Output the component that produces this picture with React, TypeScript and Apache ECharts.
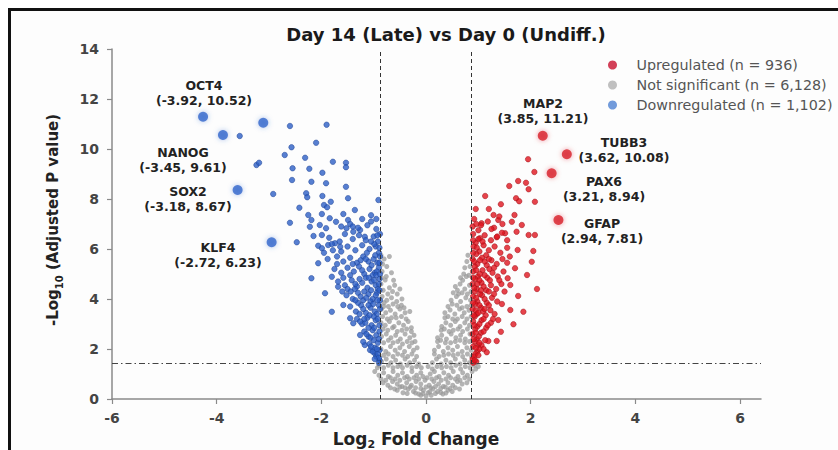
import React, { useEffect, useRef } from "react";
import * as echarts from "echarts";

// ---------------- data ----------------
const xTickValues = [-6, -4, -2, 0, 2, 4, 6];
const foldThreshold = 0.87;
const pThreshold = 1.42;

const upName = "Upregulated (n = 936)";
const nsName = "Not significant (n = 6,128)";
const downName = "Downregulated (n = 1,102)";

const downregulated: number[][] = [
  [-3.56, 10.52], [-3.24, 9.36], [-3.19, 9.45], [-2.92, 8.2], [-2.47, 6.27],
  [-2.6, 10.92], [-1.9, 10.97], [-2.1, 10.25], [-2.57, 10.07], [-2.7, 9.76], [-2.31, 9.65], [-1.78, 9.49],
  [-1.53, 9.45], [-1.53, 9.27], [-2.55, 9.23], [-2.23, 9.21], [-1.98, 9.05], [-2.56, 8.76], [-2.19, 8.69],
  [-1.91, 8.63], [-1.53, 8.49], [-2.29, 8.23], [-2.27, 8.07], [-1.98, 8.12], [-1.82, 7.89], [-1.95, 7.76],
  [-1.89, 7.67], [-1.49, 8.03], [-2.42, 7.65], [-1.36, 7.56], [-0.91, 7.96], [-2.25, 7.36], [-2.19, 7.16],
  [-1.99, 7.4], [-1.84, 7.23], [-1.72, 7.09], [-2.6, 7.05], [-2.22, 6.89], [-2.03, 6.96], [-1.91, 6.83],
  [-1.49, 7.16], [-1.52, 6.83], [-1.39, 6.69], [-1.26, 6.76], [-1.17, 6.49], [-1.99, 6.56], [-2.15, 6.52],
  [-2.06, 6.13], [-1.99, 6.03], [-1.87, 6.16], [-1.74, 6.23], [-1.64, 6.09], [-2.06, 5.43], [-2.19, 4.83],
  [-1.8, 4.89], [-1.93, 4.23], [-1.8, 3.49], [-1.68, 4.49], [-1.58, 3.76], [-1.45, 3.23], [-1.39, 3.03],
  [-1.26, 2.56], [-1.17, 2.16], [-1.07, 1.96], [-0.98, 1.83], [-1.2, 2.29],
  [-1.62, 6.9], [-1.45, 7.0], [-1.3, 6.85], [-1.12, 6.95], [-0.95, 6.8], [-1.05, 7.1],
  [-1.85, 6.45], [-1.55, 6.6], [-1.4, 6.4], [-1.28, 6.55], [-1.15, 6.35], [-1.0, 6.5], [-0.92, 6.3], [-1.65, 6.3],
  [-1.95, 5.85], [-1.5, 6.1], [-1.35, 5.95], [-1.22, 6.15], [-1.08, 6.0], [-0.96, 6.1], [-1.78, 5.95], [-0.9, 5.85],
  [-1.88, 5.6], [-1.7, 5.7], [-1.58, 5.5], [-1.45, 5.65], [-1.32, 5.45], [-1.2, 5.7], [-1.1, 5.5], [-1.0, 5.6],
  [-0.93, 5.45], [-1.4, 5.4], [-1.25, 5.55], [-0.88, 5.7],
  [-1.75, 5.2], [-1.62, 5.05], [-1.5, 5.25], [-1.38, 5.1], [-1.28, 5.3], [-1.18, 5.0], [-1.08, 5.2], [-0.98, 5.05],
  [-0.9, 5.25], [-1.45, 4.95], [-1.22, 5.15], [-1.02, 4.95], [-0.94, 5.1],
  [-1.68, 4.7], [-1.55, 4.55], [-1.42, 4.75], [-1.32, 4.5], [-1.22, 4.65], [-1.12, 4.45], [-1.04, 4.7], [-0.96, 4.55],
  [-0.89, 4.8], [-1.36, 4.4], [-1.15, 4.85], [-0.92, 4.4], [-1.5, 4.4],
  [-1.52, 4.15], [-1.4, 4.0], [-1.3, 4.25], [-1.2, 3.95], [-1.1, 4.2], [-1.02, 4.0], [-0.94, 4.25], [-0.88, 3.95],
  [-1.25, 4.1], [-1.06, 3.9], [-1.44, 4.3],
  [-1.45, 3.7], [-1.34, 3.5], [-1.24, 3.75], [-1.15, 3.45], [-1.06, 3.65], [-0.98, 3.5], [-0.9, 3.75], [-1.2, 3.6],
  [-0.94, 3.4], [-1.3, 3.85],
  [-1.32, 3.2], [-1.22, 3.0], [-1.12, 3.25], [-1.04, 2.95], [-0.96, 3.15], [-0.89, 2.95], [-1.16, 3.05], [-1.0, 3.3],
  [-1.18, 2.7], [-1.1, 2.5], [-1.02, 2.75], [-0.95, 2.55], [-0.89, 2.7], [-1.06, 2.45],
  [-1.08, 2.2], [-0.98, 2.05], [-0.92, 2.25], [-0.89, 1.95], [-1.02, 1.9],
  [-0.95, 1.7], [-0.89, 1.55], [-0.92, 1.8], [-0.9, 1.45],
  [-0.88, 6.6], [-0.93, 6.55], [-0.99, 6.2], [-1.05, 6.3], [-0.89, 6.05], [-1.13, 5.85], [-0.97, 5.75], [-1.04, 5.35],
  [-0.89, 5.45], [-1.15, 5.6], [-0.95, 4.95], [-1.09, 4.85], [-0.88, 5.0], [-1.27, 4.8], [-0.99, 4.75], [-0.9, 4.6],
  [-1.18, 4.3], [-1.05, 4.35], [-0.96, 4.15], [-0.89, 4.35], [-1.14, 4.05], [-1.35, 3.95], [-0.93, 3.95], [-1.01, 3.8],
  [-1.1, 3.75], [-0.88, 3.6], [-1.27, 3.4], [-1.08, 3.35], [-0.92, 3.2], [-1.18, 3.2], [-1.26, 3.1], [-0.99, 2.85],
  [-1.1, 2.85], [-0.9, 2.4], [-1.14, 2.6], [-1.0, 2.35], [-0.94, 2.0], [-1.05, 2.1], [-0.9, 1.65], [-0.98, 1.6],
  [-1.35, 4.6], [-1.6, 4.3], [-1.58, 4.85], [-1.7, 5.4], [-1.62, 5.9], [-1.8, 6.2], [-1.4, 6.9], [-1.22, 7.2],
  [-1.58, 7.4], [-1.05, 7.35], [-0.95, 7.2],
];

const upregulated: number[][] = [
  [1.95, 9.59], [2.07, 9.08], [1.76, 8.72], [1.91, 8.65], [1.59, 8.52], [1.96, 8.39], [1.13, 8.12], [1.72, 8.03],
  [1.78, 7.91], [2.08, 7.89], [1.43, 7.79], [1.29, 7.36], [1.69, 7.36], [1.38, 7.16], [1.46, 7.0], [1.64, 7.09],
  [1.83, 6.96], [1.73, 6.69], [1.06, 7.03], [1.96, 6.56], [2.08, 6.56], [1.51, 6.63], [1.03, 6.43], [1.35, 6.47],
  [1.75, 5.96], [2.05, 5.92], [2.02, 5.49], [1.7, 5.23], [1.93, 4.96], [1.56, 4.83], [1.61, 4.56], [2.12, 4.4],
  [1.76, 4.12], [1.61, 3.56], [1.86, 3.49], [1.38, 3.16], [1.67, 2.99], [1.43, 2.69], [1.19, 2.32], [1.35, 2.32],
  [1.16, 1.87], [1.0, 2.16], [0.95, 7.6], [1.2, 7.6],
  [0.92, 7.2], [1.05, 6.95], [1.18, 7.1], [1.3, 6.85],
  [0.9, 6.6], [1.0, 6.4], [1.12, 6.55], [1.24, 6.35], [1.36, 6.5], [0.95, 6.25], [1.45, 6.65],
  [0.91, 6.1], [1.02, 5.9], [1.1, 6.15], [1.2, 5.95], [1.31, 6.1], [1.42, 5.85], [0.96, 5.8], [1.55, 6.05],
  [0.89, 5.6], [0.98, 5.4], [1.07, 5.65], [1.16, 5.35], [1.25, 5.55], [1.35, 5.4], [1.46, 5.6], [0.93, 5.3],
  [1.12, 5.5], [1.55, 5.45],
  [0.9, 5.1], [0.99, 4.9], [1.08, 5.15], [1.17, 4.85], [1.27, 5.05], [1.37, 4.9], [1.48, 5.1], [0.94, 4.8],
  [1.21, 5.2], [1.03, 5.0],
  [0.89, 4.6], [0.97, 4.4], [1.06, 4.65], [1.15, 4.35], [1.24, 4.55], [1.34, 4.4], [1.44, 4.6], [0.93, 4.3],
  [1.1, 4.5], [1.02, 4.75],
  [0.9, 4.1], [0.98, 3.9], [1.07, 4.15], [1.16, 3.85], [1.26, 4.05], [1.36, 3.9], [0.94, 3.8], [1.12, 4.0], [1.03, 4.2],
  [0.89, 3.6], [0.97, 3.4], [1.05, 3.65], [1.14, 3.35], [1.23, 3.55], [1.31, 3.4], [0.93, 3.3], [1.09, 3.5],
  [0.9, 3.1], [0.98, 2.9], [1.06, 3.15], [1.15, 2.85], [1.24, 3.05], [0.94, 2.8], [1.02, 3.0],
  [0.89, 2.6], [0.97, 2.4], [1.05, 2.65], [1.13, 2.35], [0.93, 2.3], [1.01, 2.5],
  [0.9, 2.1], [0.98, 1.9], [1.06, 2.15], [0.94, 1.8], [1.02, 2.0],
  [0.89, 1.6], [0.96, 1.5], [0.92, 1.7], [0.9, 1.45],
  [0.89, 6.9], [0.96, 7.0], [1.0, 6.75], [0.9, 6.35], [1.08, 6.3], [0.97, 6.05], [1.15, 5.75], [0.9, 5.85],
  [1.03, 5.55], [0.92, 5.5], [1.2, 5.6], [1.3, 5.25], [0.96, 5.15], [1.12, 4.95], [0.9, 4.85], [1.22, 4.75],
  [1.4, 4.75], [0.98, 4.6], [0.92, 4.45], [1.2, 4.3], [1.3, 4.2], [1.05, 4.35], [0.96, 4.05], [0.9, 3.85],
  [1.2, 3.75], [1.02, 3.75], [1.12, 3.6], [0.95, 3.55], [1.28, 3.2], [1.1, 3.2], [0.91, 3.35], [1.0, 3.45],
  [1.18, 2.95], [0.92, 2.95], [1.1, 2.7], [0.95, 2.65], [1.02, 2.25], [0.91, 2.4], [1.1, 2.0], [0.95, 2.05],
  [0.93, 1.55], [1.0, 1.75], [1.25, 6.8], [1.4, 7.3], [1.55, 6.35], [1.6, 5.7], [1.5, 4.3], [1.45, 3.8],
];

const notSignificant: number[][] = [
  [-0.8, 5.6], [-0.7, 5.7], [0.78, 5.5], [0.84, 5.3],
  [-0.84, 5.1], [-0.76, 4.9], [-0.66, 5.05], [0.72, 5.0], [0.82, 4.95], [0.66, 4.85],
  [-0.86, 4.6], [-0.78, 4.76], [-0.7, 4.45], [-0.6, 4.55], [-0.5, 4.4], [0.56, 4.5], [0.65, 4.6], [0.74, 4.4],
  [0.83, 4.55], [0.7, 4.75],
  [-0.84, 4.1], [-0.75, 3.95], [-0.66, 4.05], [-0.56, 3.9], [-0.46, 4.0], [0.48, 3.95], [0.58, 4.1], [0.66, 3.9],
  [0.76, 4.05], [0.85, 3.95], [-0.8, 3.85], [0.62, 4.2],
  [-0.85, 3.6], [-0.77, 3.45], [-0.68, 3.55], [-0.59, 3.4], [-0.5, 3.6], [-0.4, 3.45], [-0.31, 3.5], [0.36, 3.45],
  [0.46, 3.56], [0.55, 3.4], [0.64, 3.6], [0.73, 3.45], [0.82, 3.55], [-0.72, 3.7], [0.78, 3.7],
  [-0.86, 3.05], [-0.78, 2.95], [-0.7, 3.1], [-0.61, 2.9], [-0.52, 3.05], [-0.43, 2.95], [-0.34, 3.1], [-0.28, 2.85],
  [0.3, 2.9], [0.38, 3.05], [0.47, 2.95], [0.56, 3.1], [0.65, 2.9], [0.74, 3.05], [0.83, 2.95], [-0.66, 3.25], [0.6, 3.2],
  [-0.85, 2.5], [-0.76, 2.6], [-0.67, 2.45], [-0.58, 2.55], [-0.49, 2.4], [-0.4, 2.6], [-0.31, 2.45], [-0.23, 2.55],
  [0.22, 2.45], [0.3, 2.55], [0.39, 2.4], [0.48, 2.6], [0.57, 2.45], [0.66, 2.55], [0.75, 2.4], [0.84, 2.6],
  [-0.55, 2.7], [0.52, 2.75],
  [-0.86, 2.0], [-0.77, 1.9], [-0.68, 2.1], [-0.59, 1.95], [-0.5, 2.05], [-0.41, 1.9], [-0.32, 2.1], [-0.24, 1.95],
  [-0.17, 2.05], [0.16, 1.95], [0.24, 2.1], [0.33, 1.9], [0.42, 2.05], [0.51, 1.95], [0.6, 2.1], [0.69, 1.9],
  [0.78, 2.05], [0.86, 1.95], [-0.45, 2.2], [0.47, 2.25],
  [-0.85, 1.5], [-0.76, 1.6], [-0.67, 1.45], [-0.58, 1.55], [-0.49, 1.4], [-0.4, 1.6], [-0.31, 1.45], [-0.22, 1.55],
  [-0.14, 1.4], [0.12, 1.45], [0.2, 1.6], [0.29, 1.4], [0.38, 1.55], [0.47, 1.45], [0.56, 1.6], [0.65, 1.4],
  [0.74, 1.55], [0.83, 1.45], [-0.35, 1.7], [0.34, 1.75],
  [-0.98, 1.1], [-0.9, 0.95], [-0.81, 1.05], [-0.72, 0.9], [-0.63, 1.1], [-0.54, 0.95], [-0.45, 1.05], [-0.36, 0.9],
  [-0.27, 1.1], [-0.18, 0.95], [-0.1, 1.05], [0.08, 1.0], [0.16, 1.1], [0.25, 0.9], [0.34, 1.05], [0.43, 0.95],
  [0.52, 1.1], [0.61, 0.9], [0.7, 1.05], [0.79, 0.95], [0.88, 1.1], [0.95, 1.2], [-0.93, 1.25],
  [-0.82, 0.65], [-0.73, 0.55], [-0.64, 0.7], [-0.55, 0.6], [-0.46, 0.5], [-0.37, 0.65], [-0.28, 0.55], [-0.19, 0.7],
  [-0.1, 0.6], [-0.02, 0.75], [0.06, 0.55], [0.15, 0.7], [0.24, 0.6], [0.33, 0.5], [0.42, 0.65], [0.51, 0.55],
  [0.6, 0.7], [0.69, 0.6], [0.78, 0.65],
  [-0.55, 0.35], [-0.44, 0.25], [-0.34, 0.4], [-0.24, 0.3], [-0.14, 0.2], [-0.05, 0.35], [0.04, 0.25], [0.13, 0.4],
  [0.22, 0.3], [0.32, 0.2], [0.42, 0.35], [0.5, 0.3], [0.0, 0.12], [-0.1, 0.15], [0.1, 0.15],
  [-0.83, 5.4], [-0.75, 5.3], [0.8, 5.75], [0.74, 5.25], [-0.86, 5.75],
  [-0.82, 4.35], [-0.73, 4.2], [-0.64, 4.3], [-0.55, 4.2], [0.52, 4.25], [0.6, 4.35], [0.69, 4.25], [0.79, 4.2],
  [0.86, 4.3], [-0.85, 4.85], [0.77, 4.9], [-0.62, 4.75],
  [-0.81, 3.7], [-0.63, 3.8], [-0.54, 3.7], [-0.47, 3.75], [-0.42, 3.65], [0.42, 3.7], [0.5, 3.8], [0.59, 3.75],
  [0.69, 3.65], [0.86, 3.75],
  [-0.83, 3.3], [-0.74, 3.2], [-0.57, 3.25], [-0.47, 3.3], [-0.38, 3.2], [0.36, 3.25], [0.42, 3.3], [0.51, 3.2],
  [0.69, 3.3], [0.78, 3.2], [0.86, 3.3],
  [-0.82, 2.8], [-0.73, 2.75], [-0.64, 2.85], [-0.46, 2.75], [-0.37, 2.8], [-0.28, 2.7], [0.29, 2.75], [0.35, 2.8],
  [0.44, 2.7], [0.61, 2.8], [0.7, 2.7], [0.79, 2.8],
  [-0.81, 2.25], [-0.72, 2.35], [-0.63, 2.25], [-0.54, 2.3], [-0.36, 2.3], [-0.27, 2.25], [-0.21, 2.3], [0.22, 2.3],
  [0.28, 2.35], [0.37, 2.25], [0.56, 2.3], [0.65, 2.35], [0.74, 2.25], [0.83, 2.3],
  [-0.81, 1.75], [-0.72, 1.8], [-0.63, 1.7], [-0.54, 1.8], [-0.45, 1.75], [-0.27, 1.8], [-0.18, 1.7], [0.16, 1.8],
  [0.25, 1.7], [0.43, 1.8], [0.52, 1.75], [0.61, 1.8], [0.7, 1.7], [0.79, 1.8], [0.87, 1.7],
  [-0.9, 1.35], [-0.81, 1.25], [-0.72, 1.35], [-0.63, 1.25], [-0.54, 1.3], [-0.45, 1.25], [-0.36, 1.35], [-0.27, 1.25],
  [-0.18, 1.3], [-0.09, 1.25], [0.04, 1.3], [0.12, 1.2], [0.21, 1.3], [0.3, 1.25], [0.39, 1.3], [0.48, 1.25],
  [0.57, 1.35], [0.66, 1.2], [0.75, 1.3], [0.84, 1.25], [0.92, 1.35], [1.0, 1.3],
  [-0.86, 0.8], [-0.77, 0.75], [-0.68, 0.85], [-0.59, 0.8], [-0.5, 0.75], [-0.41, 0.85], [-0.32, 0.8], [-0.23, 0.85],
  [-0.14, 0.8], [-0.06, 0.9], [0.02, 0.85], [0.11, 0.8], [0.2, 0.85], [0.29, 0.75], [0.38, 0.8], [0.47, 0.85],
  [0.56, 0.8], [0.65, 0.75], [0.74, 0.85], [0.83, 0.8],
  [-0.68, 0.45], [-0.6, 0.4], [-0.5, 0.48], [-0.4, 0.45], [-0.3, 0.48], [-0.2, 0.45], [-0.1, 0.42], [0.0, 0.48],
  [0.09, 0.45], [0.18, 0.5], [0.28, 0.42], [0.37, 0.48], [0.46, 0.42], [0.56, 0.45], [0.64, 0.4],
  [-0.36, 0.22], [-0.2, 0.24], [-0.06, 0.22], [0.07, 0.28], [0.18, 0.22], [0.28, 0.26], [0.38, 0.24],
];

const highlightedDown: number[][] = [[-4.26, 11.29], [-3.88, 10.56], [-3.11, 11.05], [-3.6, 8.36], [-2.95, 6.27]];
const highlightedUp: number[][] = [[2.23, 10.53], [2.69, 9.79], [2.4, 9.03], [2.53, 7.16]];

const geneNames = ["OCT4", "NANOG", "SOX2", "KLF4", "MAP2", "TUBB3", "PAX6", "GFAP"];
const geneCoordTexts = [
  "(-3.92, 10.52)", "(-3.45, 9.61)", "(-3.18, 8.67)", "(-2.72, 6.23)",
  "(3.85, 11.21)", "(3.62, 10.08)", "(3.21, 8.94)", "(2.94, 7.81)",
];

// ---------------- layout (pixels) ----------------
const labelAnchors = [
  [193, 81.5], [172, 148.5], [177, 188], [207, 243.5],
  [532, 100], [613, 138.5], [593, 178], [591, 220],
];

const FONT = "'DejaVu Sans', 'Liberation Sans', sans-serif";

export default function App() {
  const ref = useRef<HTMLDivElement>(null);
  useEffect(() => {
    document.documentElement.style.overflow = "hidden";
    document.body.style.overflow = "hidden";
    if (!ref.current) return;
    const chart = echarts.init(ref.current, null, { renderer: "svg" });

    const geneLabels = geneNames.map((g, i) => ({
      type: "text",
      x: labelAnchors[i][0],
      y: labelAnchors[i][1],
      silent: true,
      style: {
        text: g + "\n" + geneCoordTexts[i],
        fontFamily: FONT,
        fontSize: 12.5,
        fontWeight: "bold",
        lineHeight: 15,
        fill: "#222",
        textAlign: "center",
        textVerticalAlign: "middle",
      },
    }));

    chart.setOption({
      animation: false,
      backgroundColor: "#fdfdfd",
      textStyle: { fontFamily: FONT },
      title: {
        text: "Day 14 (Late) vs Day 0 (Undiff.)",
        left: 430,
        top: 9,
        textAlign: "center",
        textStyle: { fontFamily: FONT, fontSize: 18, fontWeight: "bold", color: "#1a1a1a" },
      },
      legend: {
        orient: "vertical",
        left: 592,
        top: 42,
        itemWidth: 38,
        itemHeight: 9,
        itemGap: 6,
        icon: "circle",
        selectedMode: false,
        textStyle: { fontFamily: FONT, fontSize: 14.3, color: "#555" },
        data: [
          { name: upName, itemStyle: { color: "#c8102e", borderWidth: 0 } },
          { name: nsName, itemStyle: { color: "#ababab", borderWidth: 0 } },
          { name: downName, itemStyle: { color: "#4f82d2", borderWidth: 0 } },
        ],
      },
      grid: { left: 101, top: 38, width: 649, height: 350, containLabel: false, outerBoundsMode: "none" },
      xAxis: {
        type: "value",
        min: -6,
        max: 6.4,
        interval: 2,
        splitLine: { show: false },
        axisLine: { show: true, onZero: false, lineStyle: { color: "#8a8a8a", width: 1.5 } },
        axisTick: { show: true, length: 5, lineStyle: { color: "#8a8a8a", width: 1.2 }, customValues: xTickValues },
        axisLabel: {
          fontFamily: FONT, fontSize: 14, fontWeight: "bold", color: "#444", margin: 12,
          customValues: xTickValues,
        },
      },
      yAxis: {
        type: "value",
        min: 0,
        max: 14,
        interval: 2,
        splitLine: { show: false },
        axisLine: { show: true, onZero: false, lineStyle: { color: "#8a8a8a", width: 1.5 } },
        axisTick: { show: true, length: 5, lineStyle: { color: "#8a8a8a", width: 1.2 } },
        axisLabel: { fontFamily: FONT, fontSize: 14, fontWeight: "bold", color: "#444", margin: 13 },
      },
      graphic: [
        {
          type: "text",
          x: 42,
          y: 209,
          rotation: Math.PI / 2,
          silent: true,
          style: {
            text: "{a|-Log}{s|10}{a| (Adjusted P value)}",
            textAlign: "center",
            textVerticalAlign: "middle",
            fill: "#222",
            rich: {
              a: { fontFamily: FONT, fontSize: 15, fontWeight: "bold", fill: "#222", lineHeight: 22, verticalAlign: "middle" },
              s: { fontFamily: FONT, fontSize: 10, fontWeight: "bold", fill: "#222", lineHeight: 12, verticalAlign: "bottom" },
            },
          },
        },
        {
          type: "text",
          x: 405,
          y: 428,
          silent: true,
          style: {
            text: "{a|Log}{s|2}{a| Fold Change}",
            textAlign: "center",
            textVerticalAlign: "middle",
            fill: "#222",
            rich: {
              a: { fontFamily: FONT, fontSize: 17, fontWeight: "bold", fill: "#222", lineHeight: 22, verticalAlign: "middle" },
              s: { fontFamily: FONT, fontSize: 11, fontWeight: "bold", fill: "#222", lineHeight: 12, verticalAlign: "bottom" },
            },
          },
        },
        ...geneLabels,
      ],
      series: [
        {
          name: nsName,
          type: "scatter",
          data: notSignificant,
          symbolSize: 5,
          itemStyle: { color: "#9a9a9a", opacity: 0.75 },
          z: 2,
          markLine: {
            silent: true,
            symbol: "none",
            label: { show: false },
            lineStyle: { color: "#333", width: 1, type: [4, 3] },
            data: [
              { xAxis: -foldThreshold },
              { xAxis: foldThreshold },
              { yAxis: pThreshold, lineStyle: { color: "#444", width: 1, type: [6, 3, 1.5, 3] } },
            ],
          },
        },
        {
          name: downName,
          type: "scatter",
          data: downregulated,
          symbolSize: 5.5,
          itemStyle: { color: "#2d5fc6", borderColor: "#1b3f8f", borderWidth: 0.6 },
          z: 3,
        },
        {
          name: upName,
          type: "scatter",
          data: upregulated,
          symbolSize: 5.5,
          itemStyle: { color: "#e0141e", borderColor: "#9a1018", borderWidth: 0.6 },
          z: 3,
        },
        {
          name: "Highlighted down",
          type: "scatter",
          data: highlightedDown,
          symbolSize: 10,
          itemStyle: { color: "#3366cc", shadowBlur: 5, shadowColor: "rgba(51,102,204,0.5)" },
          z: 4,
        },
        {
          name: "Highlighted up",
          type: "scatter",
          data: highlightedUp,
          symbolSize: 10,
          itemStyle: { color: "#d81e28", shadowBlur: 5, shadowColor: "rgba(216,30,40,0.5)" },
          z: 4,
        },
      ],
    });
    return () => chart.dispose();
  }, []);

  return (
    <div
      style={{
        position: "fixed",
        left: 8,
        top: 8,
        width: 830,
        height: 442,
        boxSizing: "border-box",
        borderTop: "3px solid #111",
        borderLeft: "3px solid #111",
        background: "#fdfdfd",
      }}
    >
      <div ref={ref} style={{ width: 827, height: 439 }} />
    </div>
  );
}
